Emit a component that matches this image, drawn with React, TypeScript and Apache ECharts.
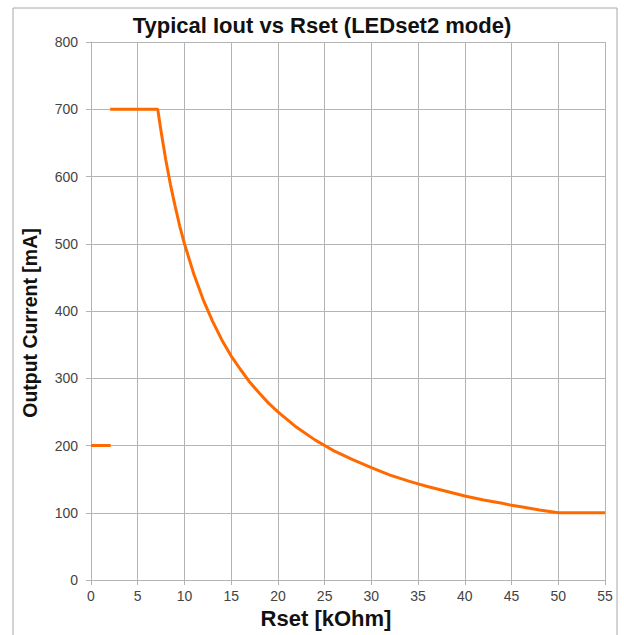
import React, { useEffect, useRef } from "react";
import * as echarts from "echarts";

const TITLE = "Typical Iout vs Rset (LEDset2 mode)";
const X_NAME = "Rset [kOhm]";
const Y_NAME = "Output Current [mA]";

// low segment
const lowR = [0, 2.1];
const lowI = [200, 200];

// main curve
const mainR = [2.05, 7.14, 7.5, 8, 8.5, 9, 9.5, 10, 11, 12, 13, 14, 15, 16, 17, 18, 19, 20, 22, 24, 25, 26, 28, 30, 32, 34, 35, 36, 38, 40, 42, 44, 45, 46, 48, 50, 55];
const mainI = [700, 700, 667, 625, 588, 556, 526, 500, 455, 417, 385, 357, 333, 313, 294, 278, 263, 250, 227, 208, 200, 192, 179, 167, 156, 147, 143, 139, 132, 125, 119, 114, 111, 109, 104, 100, 100];

const FONT = '"Liberation Sans", Arial, sans-serif';
const GRID = "#b4b4b4";
const ORANGE = "#ff6a00";

export default function App() {
  const ref = useRef<HTMLDivElement>(null);
  useEffect(() => {
    const chart = echarts.init(ref.current!, null, { renderer: "svg" });
    chart.setOption({
      animation: false,
      backgroundColor: "#ffffff",
      title: {
        text: TITLE,
        left: 317,
        textAlign: "center",
        top: 9,
        textStyle: { fontFamily: FONT, fontWeight: "bold", fontSize: 22, color: "#111" },
      },
      grid: { left: 91, right: 19, top: 42, bottom: 55 },
      xAxis: {
        type: "value",
        min: 0,
        max: 55,
        interval: 5,
        axisLine: { show: true, lineStyle: { color: GRID, width: 1 } },
        axisTick: { show: true, length: 5, lineStyle: { color: GRID } },
        axisLabel: { margin: 9, fontFamily: FONT, fontSize: 14, color: "#444" },
        splitLine: { show: true, lineStyle: { color: GRID, width: 1 } },
      },
      yAxis: {
        type: "value",
        min: 0,
        max: 800,
        interval: 100,
        axisLine: { show: true, lineStyle: { color: GRID, width: 1 } },
        axisTick: { show: true, length: 5, lineStyle: { color: GRID } },
        axisLabel: { margin: 13, fontFamily: FONT, fontSize: 14, color: "#444" },
        splitLine: { show: true, lineStyle: { color: GRID, width: 1 } },
      },
      graphic: [
        {
          type: "rect",
          shape: { x: 13, y: 8, width: 604, height: 640 },
          style: { fill: "none", stroke: "#a8a8a8", lineWidth: 1 },
          silent: true,
        },
        {
          type: "text",
          x: 326,
          y: 618,
          style: {
            text: X_NAME,
            fontFamily: FONT,
            fontWeight: "bold",
            fontSize: 22,
            fill: "#111",
            textAlign: "center",
            textVerticalAlign: "middle",
          },
        },
        {
          type: "text",
          x: 30,
          y: 323,
          rotation: Math.PI / 2,
          style: {
            text: Y_NAME,
            fontFamily: FONT,
            fontWeight: "bold",
            fontSize: 19.5,
            fill: "#111",
            textAlign: "center",
            textVerticalAlign: "middle",
          },
        },
      ],
      series: [
        {
          type: "line",
          data: lowR.map((r, i) => [r, lowI[i]]),
          showSymbol: false,
          lineStyle: { color: ORANGE, width: 3 },
          itemStyle: { color: ORANGE },
        },
        {
          type: "line",
          data: mainR.map((r, i) => [r, mainI[i]]),
          showSymbol: false,
          lineStyle: { color: ORANGE, width: 3 },
          itemStyle: { color: ORANGE },
        },
      ],
    });
    return () => chart.dispose();
  }, []);
  return (
    <div
      ref={ref}
      style={{ position: "fixed", left: 0, top: 0, width: 624, height: 635 }}
    />
  );
}
